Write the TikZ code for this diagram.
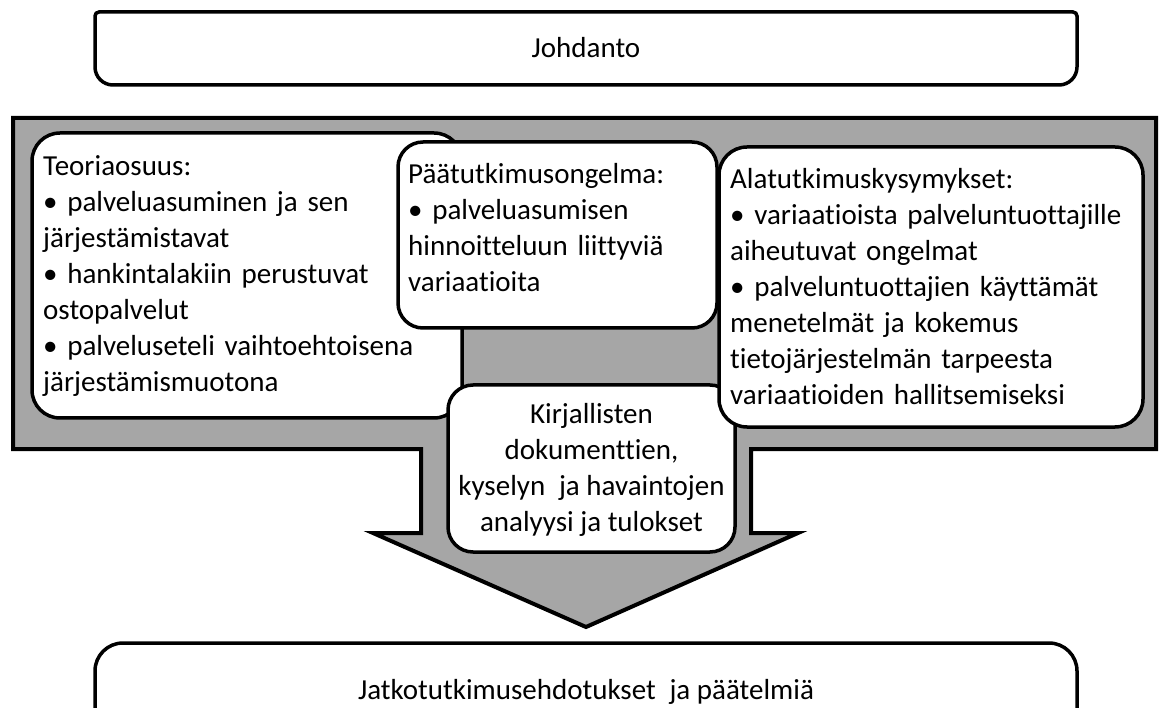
\documentclass[tikz,border=0pt]{standalone}
\usepackage{fontspec}
\setmainfont{Carlito}[Ligatures={NoCommon,NoRequired,NoContextual}]
\definecolor{arrowgray}{HTML}{A6A6A6}
\begin{document}
\begin{tikzpicture}[x=1pt,y=-1pt,
  boxshape/.style={draw=black, line width=3.5pt, fill=white, rounded corners=28pt, inner sep=0pt},
  linebox/.style={draw=black, line width=3.5pt, fill=white},
  txt/.style={font=\fontsize{29}{36}\selectfont, inner sep=0pt, text=black},
  ltxt/.style={txt, align=left, anchor=west},
  ctxt/.style={txt, align=center}
]
\useasboundingbox (0,0) rectangle (1162,708);
\begin{scope}
\clip (0,0) rectangle (1162,708);

% top box
\draw[linebox] (95,16) arc[start angle=180,end angle=270,radius=4] -- (1073,12)
  arc[start angle=270,end angle=360,radius=4] -- (1077,67)
  arc[start angle=0,end angle=90,radius=18] -- (113,85)
  arc[start angle=90,end angle=180,radius=18] -- cycle;
\node[ctxt] (intro) at (586,48) {Johdanto};

% gray arrow shape
\draw[draw=black, line width=4pt, fill=arrowgray, line join=miter]
  (13,118) -- (1156,118) -- (1156,449) -- (751,449) -- (751,533) -- (798,533)
  -- (586,627) -- (373,533) -- (421,533) -- (421,449) -- (13,449) -- cycle;

% boxes (drawing order matters for overlaps)
\node[boxshape, minimum width=430pt, minimum height=285pt] (theory) at (247,275.5) {};
\node[boxshape, rounded corners=25pt, minimum width=319pt, minimum height=186pt] (main) at (557.5,235) {};
\node[boxshape, rounded corners=25pt, minimum width=287pt, minimum height=167pt] (analysis) at (591.5,468.5) {};
\node[boxshape, minimum width=424pt, minimum height=280pt] (sub) at (931,287) {};

\node[ltxt, text width=410pt] (theoryT) at (43,276) {Teoriaosuus:\\
• palveluasuminen ja sen\\
järjestämistavat\\
• hankintalakiin perustuvat\\
ostopalvelut\\
• palveluseteli vaihtoehtoisena\\
järjestämismuotona};

\node[ltxt, text width=300pt] (mainT) at (408,228) {Päätutkimusongelma:\\
• palveluasumisen\\
hinnoitteluun liittyviä\\
variaatioita};

\node[ltxt, text width=405pt] (subT) at (730,286.5) {Alatutkimuskysymykset:\\
• variaatioista palveluntuottajille\\
aiheutuvat ongelmat\\
• palveluntuottajien käyttämät\\
menetelmät ja kokemus\\
tietojärjestelmän tarpeesta\\
variaatioiden hallitsemiseksi};

\node[ctxt] (analysisT) at (591.5,470) {Kirjallisten\\
dokumenttien,\\
kyselyn\hspace{0.25em} ja havaintojen\\
analyysi ja tulokset};

% bottom box
\draw[linebox] (95,760) -- (95,671) arc[start angle=180,end angle=270,radius=28]
  -- (1049,643) arc[start angle=270,end angle=360,radius=28] -- (1077,760);
\node[ctxt] (concl) at (586,692) {Jatkotutkimusehdotukset\hspace{0.25em} ja päätelmiä};
\end{scope}
\end{tikzpicture}
\end{document}
